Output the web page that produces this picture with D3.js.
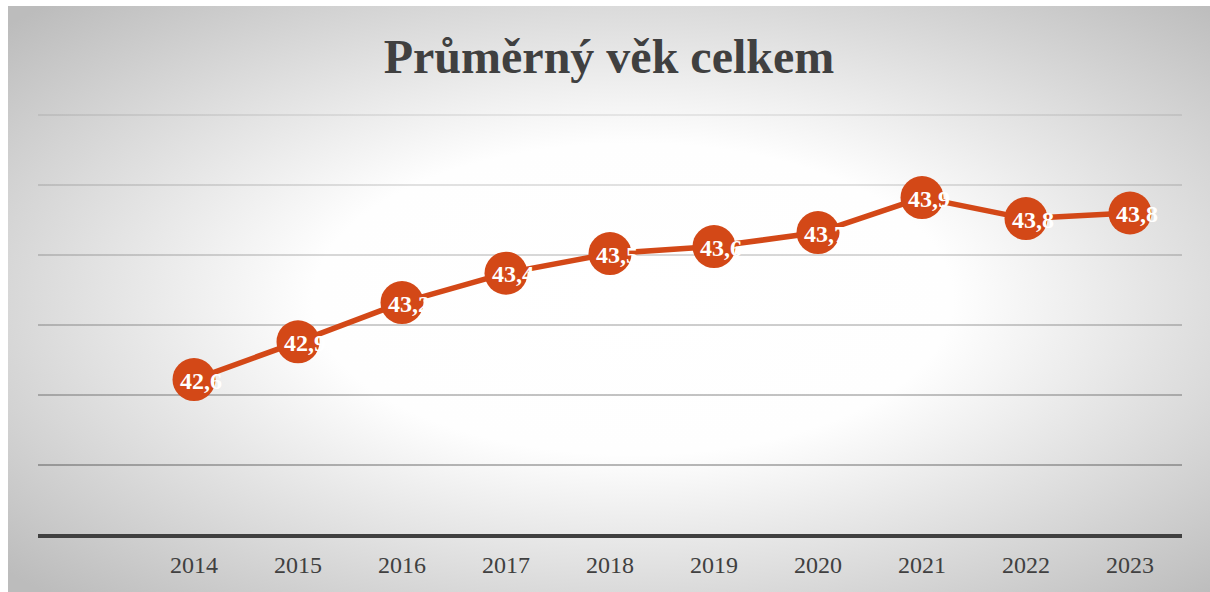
<!DOCTYPE html>
<html>
<head>
<meta charset="utf-8">
<script src="https://cdn.jsdelivr.net/npm/d3@7"></script>
<style>
  html, body { margin: 0; padding: 0; background: #fff; }
  svg { display: block; }
</style>
</head>
<body>
<svg id="chart" width="1210" height="592"></svg>
<script>
// data
const title = "Průměrný věk celkem";
const years = ["2014", "2015", "2016", "2017", "2018", "2019", "2020", "2021", "2022", "2023"];
const avgAge = [42.61, 42.88, 43.16, 43.37, 43.51, 43.56, 43.66, 43.91, 43.76, 43.80];
const yTicks = [41.5, 42, 42.5, 43, 43.5, 44, 44.5];

const W = 1210, H = 592;
const box = { x: 8, y: 6, w: W - 8, h: H - 6 };
const m = { left: 38, right: 1182, top: 115, bottom: 535 };

const svg = d3.select("#chart");
const defs = svg.append("defs");

// radial background (white centre, grey edges)
const bg = defs.append("radialGradient").attr("id", "bg")
  .attr("cx", "52%").attr("cy", "50%").attr("r", "70%");
bg.append("stop").attr("offset", "0").attr("stop-color", "#ffffff");
bg.append("stop").attr("offset", "0.38").attr("stop-color", "#fefefe");
bg.append("stop").attr("offset", "1").attr("stop-color", "#bcbcbc");

// gridlines fade out towards the top
const gg = defs.append("linearGradient").attr("id", "gridGrad")
  .attr("gradientUnits", "userSpaceOnUse")
  .attr("x1", 0).attr("x2", 0).attr("y1", m.top).attr("y2", m.bottom);
gg.append("stop").attr("offset", "0").attr("stop-color", "#000").attr("stop-opacity", 0.1);
gg.append("stop").attr("offset", "1").attr("stop-color", "#000").attr("stop-opacity", 0.42);

svg.append("rect")
  .attr("x", box.x).attr("y", box.y)
  .attr("width", box.w).attr("height", box.h)
  .attr("fill", "url(#bg)");

// first band is left empty, like in the original
const x = d3.scaleBand().domain([""].concat(years)).range([m.left, m.right]);
const y = d3.scaleLinear().domain([yTicks[0], yTicks[yTicks.length - 1]]).range([m.bottom, m.top]);

// gridlines
svg.append("g").selectAll("line")
  .data(yTicks.slice(1))
  .join("line")
  .attr("x1", m.left).attr("x2", m.right)
  .attr("y1", d => y(d)).attr("y2", d => y(d))
  .attr("stroke", "url(#gridGrad)")
  .attr("stroke-width", 1.6);

// baseline
svg.append("line")
  .attr("x1", m.left).attr("x2", m.right)
  .attr("y1", y(yTicks[0]) + 1).attr("y2", y(yTicks[0]) + 1)
  .attr("stroke", "#404040")
  .attr("stroke-width", 4);

// x labels
svg.append("g").selectAll("text")
  .data(years)
  .join("text")
  .attr("x", d => x(d) + x.bandwidth() / 2)
  .attr("y", 573)
  .attr("text-anchor", "middle")
  .attr("font-family", "'Liberation Serif', 'Times New Roman', serif")
  .attr("font-size", 24)
  .attr("fill", "#404040")
  .text(d => d);

// title
svg.append("text")
  .attr("x", box.x + box.w / 2)
  .attr("y", 73)
  .attr("text-anchor", "middle")
  .attr("font-family", "'Liberation Serif', 'Times New Roman', serif")
  .attr("font-weight", "bold")
  .attr("font-size", 48)
  .attr("fill", "#404040")
  .text(title);

const series = years.map((yr, i) => ({ year: yr, val: avgAge[i] }));
const cx = d => x(d.year) + x.bandwidth() / 2;

const line = d3.line().x(cx).y(d => y(d.val));

svg.append("path")
  .datum(series)
  .attr("fill", "none")
  .attr("stroke", "#d34817")
  .attr("stroke-width", 5.5)
  .attr("stroke-linejoin", "round")
  .attr("d", line);

svg.append("g").selectAll("circle")
  .data(series)
  .join("circle")
  .attr("cx", cx)
  .attr("cy", d => y(d.val))
  .attr("r", 21.5)
  .attr("fill", "#d34817");

const fmt = v => d3.format(".1f")(v).replace(".", ",");

svg.append("g").selectAll("text")
  .data(series)
  .join("text")
  .attr("x", d => cx(d) + 7)
  .attr("y", d => y(d.val) + 9)
  .attr("text-anchor", "middle")
  .attr("font-family", "'Liberation Serif', 'Times New Roman', serif")
  .attr("font-weight", "bold")
  .attr("font-size", 24)
  .attr("fill", "#ffffff")
  .text(d => fmt(d.val));
</script>
</body>
</html>
